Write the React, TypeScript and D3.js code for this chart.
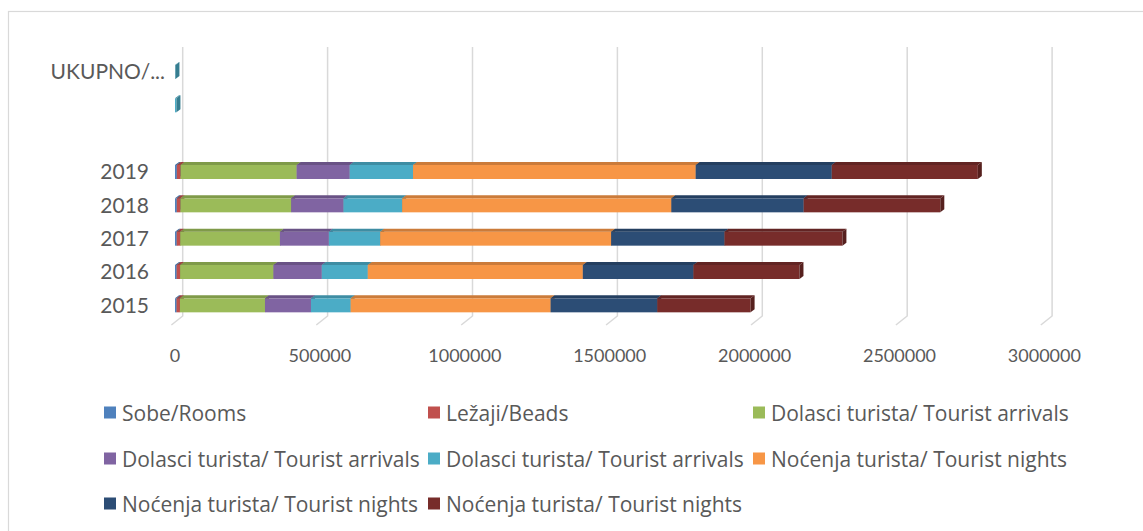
import React from "react";
import * as d3 from "d3";

const categories = ["2015", "2016", "2017", "2018", "2019", "", "", "UKUPNO/..."];
const sobe = [5500, 5800, 6000, 6300, 6500, 0, 0, 0];
const lezaji = [11500, 11800, 12000, 12500, 12800, 0, 0, 0];
const dolasciUkupno = [293500, 322000, 344000, 382000, 400500, 0, 0, 0];
const dolasciDomaci = [158700, 167000, 169000, 180500, 183000, 0, 0, 0];
const dolasciStrani = [137000, 158700, 177000, 202500, 218500, 0, 5000, 1500];
const nocenjaUkupno = [690000, 742000, 797000, 929000, 975500, 0, 0, 0];
const nocenjaDomaci = [368000, 381500, 391000, 456500, 469500, 0, 0, 0];
const nocenjaStrani = [322000, 366000, 407000, 471500, 504000, 0, 0, 0];
const xTicks = [0, 500000, 1000000, 1500000, 2000000, 2500000, 3000000];

const seriesNames = [
  "Sobe/Rooms",
  "Ležaji/Beads",
  "Dolasci turista/ Tourist arrivals",
  "Dolasci turista/ Tourist arrivals",
  "Dolasci turista/ Tourist arrivals",
  "Noćenja turista/ Tourist nights",
  "Noćenja turista/ Tourist nights",
  "Noćenja turista/ Tourist nights",
];
const seriesValues = [sobe, lezaji, dolasciUkupno, dolasciDomaci, dolasciStrani, nocenjaUkupno, nocenjaDomaci, nocenjaStrani];
const colors = ["#4f81bd", "#c0504d", "#9bbb59", "#8064a2", "#4bacc6", "#f79646", "#2c4d75", "#772c2a"];

const W = 1143;
const H = 531;
const DX = 4;
const DY = 3;
const GRID_BACK = 7.7;
const GRID_FRONT = -3.6;
const TEXT = "#595959";
const FONT = "Lato, 'Open Sans', sans-serif";
const LEGEND_FONT = "'Open Sans', Lato, sans-serif";

export default function App() {
  const x = d3.scaleLinear().domain([0, 3000000]).range([175, 1044.4]);
  const idx = categories.map((_, i) => String(i));
  const y = d3.scaleBand().domain(idx).range([322, 55.33]).paddingInner(0.58).paddingOuter(0.29);
  const bh = y.bandwidth();

  const stackData = categories.map((_, i) => {
    const o: any = { i: String(i) };
    seriesValues.forEach((s, k) => (o["s" + k] = s[i]));
    return o;
  });
  const stack = d3.stack().keys(seriesValues.map((_, k) => "s" + k))(stackData as any);

  const bars: React.ReactNode[] = [];
  categories.forEach((_, ci) => {
    const y0 = y(String(ci)) as number;
    stack.forEach((layer, k) => {
      const d = layer[ci];
      if (d[1] - d[0] <= 0) return;
      const x1 = x(d[0]);
      const x2 = x(d[1]);
      const c = d3.color(colors[k])!;
      const top = c.darker(0.55).toString();
      const side = c.darker(0.9).toString();
      bars.push(
        <g key={`b${ci}-${k}`}>
          <rect x={x1} y={y0} width={x2 - x1} height={bh} fill={colors[k]} />
          <polygon
            points={`${x1},${y0} ${x2},${y0} ${x2 + DX},${y0 - DY} ${x1 + DX},${y0 - DY}`}
            fill={top}
          />
          <polygon
            points={`${x2},${y0} ${x2 + DX},${y0 - DY} ${x2 + DX},${y0 + bh - DY} ${x2},${y0 + bh}`}
            fill={side}
          />
        </g>
      );
    });
  });

  const legendCols = [104, 428, 753];
  const legendRows = [413, 459, 504];

  return (
    <svg width={W} height={H} style={{ display: "block", position: "absolute", left: 0, top: 0 }}>
      <rect x={0} y={0} width={W} height={H} fill="#ffffff" />
      <rect x={8.5} y={11.5} width={W + 50} height={H + 50} fill="none" stroke="#d9d9d9" strokeWidth={1.2} />
      {xTicks.map((t) => (
        <path
          key={"g" + t}
          d={`M${x(t) + GRID_BACK},47 L${x(t) + GRID_BACK},316 L${x(t) + GRID_FRONT},325`}
          fill="none"
          stroke="#d9d9d9"
          strokeWidth={1.5}
        />
      ))}
      {bars}
      {xTicks.map((t) => (
        <text key={"t" + t} x={x(t)} y={362} textAnchor="middle" fill={TEXT} fontFamily={FONT} fontSize={18}>
          {String(t)}
        </text>
      ))}
      {categories.map((c, i) =>
        c ? (
          <text
            key={"c" + i}
            x={c.startsWith("U") ? 165 : 149}
            y={(y(String(i)) as number) + bh / 2 + 7.5}
            textAnchor="end"
            fill={TEXT}
            fontFamily={FONT}
            fontSize={21}
          >
            {c}
          </text>
        ) : null
      )}
      {seriesNames.map((n, k) => {
        const col = k % 3;
        const row = Math.floor(k / 3);
        const lx = legendCols[col];
        const ly = legendRows[row];
        return (
          <g key={"l" + k}>
            <rect x={lx} y={ly - 6.5} width={12} height={12} fill={colors[k]} />
            <text x={lx + 18} y={ly + 7.5} fill={TEXT} fontFamily={LEGEND_FONT} fontSize={21}>
              {n}
            </text>
          </g>
        );
      })}
    </svg>
  );
}
